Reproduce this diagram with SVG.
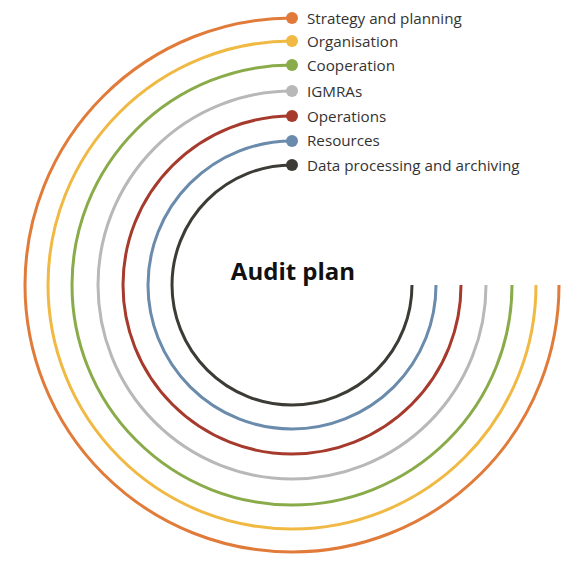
<svg xmlns="http://www.w3.org/2000/svg" width="580" height="562" viewBox="0 0 580 562">
<style>
.arc{fill:none;stroke-width:3}
.lbl{font-family:"Open Sans","Liberation Sans",sans-serif;font-size:15.2px;fill:#333}
.title{font-family:"Open Sans","Liberation Sans",sans-serif;font-size:24px;font-weight:bold;fill:#111}
</style>
<rect width="580" height="562" fill="#fff"/>
<g id="connectors">
<path class="arc" stroke="#e07b39" d="M292 18 A267 267 0 1 0 559 285"/>
<path class="arc" stroke="#f0b944" d="M292 41 A244 244 0 1 0 536 285"/>
<path class="arc" stroke="#8aab4a" d="M292 65 A220 220 0 1 0 512 285"/>
<path class="arc" stroke="#b8b8b8" d="M292 91 A194 194 0 1 0 486 285"/>
<path class="arc" stroke="#a63a2c" d="M292 116 A169 169 0 1 0 461 285"/>
<path class="arc" stroke="#6a8bab" d="M292 141 A144 144 0 1 0 436 285"/>
<path class="arc" stroke="#3d3b35" d="M292 165 A120 120 0 1 0 412 285"/>
</g>
<g id="strategy"><circle cx="292" cy="18" r="6" fill="#e07b39"/><text class="lbl" x="307" y="24">Strategy and planning</text></g>
<g id="organisation"><circle cx="292" cy="41" r="6" fill="#f0b944"/><text class="lbl" x="307" y="47">Organisation</text></g>
<g id="cooperation"><circle cx="292" cy="65" r="6" fill="#8aab4a"/><text class="lbl" x="307" y="71">Cooperation</text></g>
<g id="igmras"><circle cx="292" cy="91" r="6" fill="#b8b8b8"/><text class="lbl" x="307" y="97">IGMRAs</text></g>
<g id="operations"><circle cx="292" cy="116" r="6" fill="#a63a2c"/><text class="lbl" x="307" y="122">Operations</text></g>
<g id="resources"><circle cx="292" cy="141" r="6" fill="#6a8bab"/><text class="lbl" x="307" y="146">Resources</text></g>
<g id="data"><circle cx="292" cy="165" r="6" fill="#3d3b35"/><text class="lbl" x="307" y="171">Data processing and archiving</text></g>
<g id="audit"><text class="title" x="293" y="280" text-anchor="middle">Audit plan</text></g>
</svg>
